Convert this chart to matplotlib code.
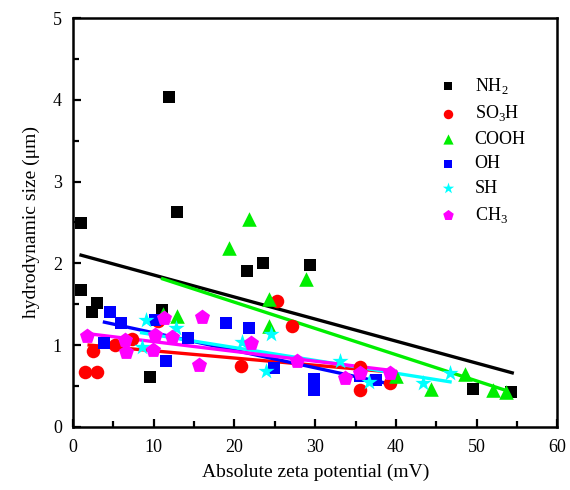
import matplotlib
matplotlib.use("Agg")
import matplotlib.pyplot as plt

plt.rcParams["font.family"] = ["Liberation Serif", "DejaVu Serif"]
plt.rcParams["mathtext.fontset"] = "custom"
plt.rcParams["mathtext.rm"] = "Liberation Serif"

# --- measured points: absolute zeta potential (mV) vs hydrodynamic size (um)
nh2_x = [1.0, 1.0, 2.3, 3.0, 9.6, 11.0, 11.9, 12.9, 21.6, 23.5, 29.3, 49.5, 54.2]
nh2_y = [2.49, 1.67, 1.41, 1.52, 0.61, 1.43, 4.03, 2.63, 1.91, 2.00, 1.98, 0.46, 0.43]

so3h_x = [1.5, 3.0, 2.5, 5.2, 7.3, 10.5, 20.8, 25.3, 27.1, 35.6, 35.6, 39.2]
so3h_y = [0.67, 0.67, 0.93, 1.00, 1.07, 1.30, 0.74, 1.54, 1.23, 0.73, 0.45, 0.53]

cooh_x = [11.1, 12.9, 19.3, 21.8, 24.3, 24.3, 28.9, 40.0, 44.3, 48.6, 52.0, 53.6]
cooh_y = [1.38, 1.36, 2.19, 2.54, 1.56, 1.23, 1.81, 0.62, 0.46, 0.64, 0.45, 0.42]

oh_x = [3.9, 4.6, 6.0, 10.1, 11.5, 14.2, 19.0, 21.8, 24.9, 29.8, 29.8, 35.5, 37.5]
oh_y = [1.03, 1.41, 1.27, 1.31, 0.80, 1.09, 1.27, 1.21, 0.72, 0.59, 0.45, 0.62, 0.57]

sh_x = [8.5, 9.1, 12.8, 20.9, 23.9, 24.5, 33.1, 36.6, 43.4, 46.7]
sh_y = [0.98, 1.31, 1.21, 1.04, 0.68, 1.14, 0.81, 0.55, 0.54, 0.66]

ch3_x = [1.7, 6.4, 6.6, 10.1, 9.9, 11.3, 12.3, 16.0, 15.6, 22.0, 27.7, 33.7, 35.6, 39.3]
ch3_y = [1.11, 1.06, 0.92, 1.12, 0.94, 1.33, 1.10, 1.34, 0.75, 1.02, 0.81, 0.60, 0.66, 0.66]

# --- linear trend lines (start, end)
nh2_fit_x, nh2_fit_y = [1.0, 54.4], [2.10, 0.66]
so3h_fit_x, so3h_fit_y = [2.0, 39.4], [1.00, 0.67]
cooh_fit_x, cooh_fit_y = [11.1, 54.4], [1.81, 0.42]
oh_fit_x, oh_fit_y = [3.9, 38.5], [1.28, 0.54]
sh_fit_x, sh_fit_y = [8.5, 46.7], [1.15, 0.55]
ch3_fit_x, ch3_fit_y = [1.8, 39.4], [1.14, 0.69]

labels = [r"NH$_\mathregular{2}$", r"SO$_\mathregular{3}$H", "COOH", "OH", "SH",
          r"CH$_\mathregular{3}$"]

series = [
    (nh2_x, nh2_y, nh2_fit_x, nh2_fit_y, "#000000", "s", 78),
    (so3h_x, so3h_y, so3h_fit_x, so3h_fit_y, "#ff0000", "o", 95),
    (cooh_x, cooh_y, cooh_fit_x, cooh_fit_y, "#00ee00", "^", 110),
    (oh_x, oh_y, oh_fit_x, oh_fit_y, "#0000ff", "s", 70),
    (sh_x, sh_y, sh_fit_x, sh_fit_y, "#00ffff", "*", 150),
    (ch3_x, ch3_y, ch3_fit_x, ch3_fit_y, "#ff00ff", "p", 130),
]

fig = plt.figure(figsize=(5.7, 4.9), dpi=100)
ax = fig.add_axes([0.128, 0.129, 0.850, 0.834])

handles = []
for (x, y, fx, fy, c, m, s), lab in zip(series, labels):
    h = ax.scatter(x, y, marker=m, s=s, color=c, linewidths=0, zorder=3, label=lab)
    ax.plot(fx, fy, color=c, lw=2.4, zorder=2.5)
    handles.append(h)

ax.set_xlim(0, 60)
ax.set_ylim(0, 5)
ax.set_xticks(range(0, 61, 10))
ax.set_xticks(range(5, 60, 10), minor=True)
ax.set_yticks(range(0, 6))
ax.set_yticks([0.5, 1.5, 2.5, 3.5, 4.5], minor=True)
ax.tick_params(which="both", direction="in", top=False, right=False,
               width=1.6, labelsize=13)
ax.tick_params(axis="x", which="both", pad=9)
ax.tick_params(axis="y", which="both", pad=8)
ax.tick_params(which="major", length=6)
ax.tick_params(which="minor", length=4)
for sp in ax.spines.values():
    sp.set_linewidth(1.8)

ax.set_xlabel("Absolute zeta potential (mV)", fontsize=14, labelpad=5)
ax.set_ylabel("hydrodynamic size (\u03bcm)", fontsize=14, labelpad=9)

ax.legend(handles=handles, loc="upper left", bbox_to_anchor=(0.71, 0.89),
          frameon=False, fontsize=13, handletextpad=0.5, labelspacing=0.42,
          markerscale=0.7, scatterpoints=1, borderpad=0.2)

fig.savefig("out.png", dpi=100)
